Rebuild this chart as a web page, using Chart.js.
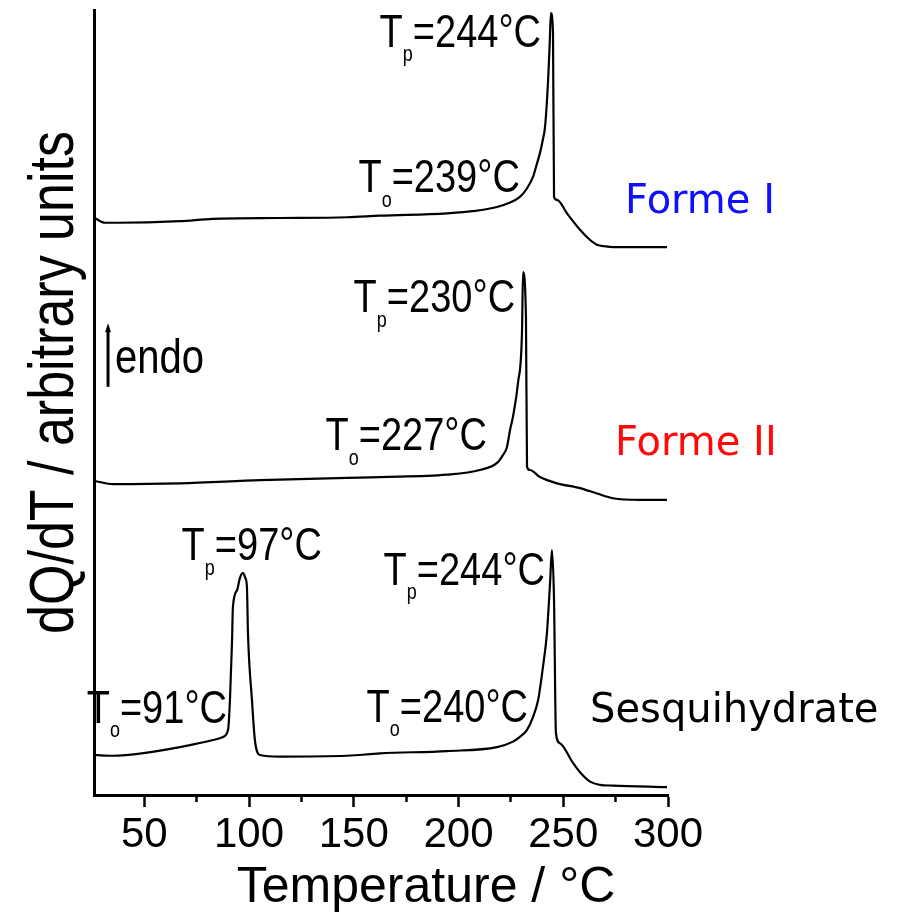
<!DOCTYPE html>
<html>
<head>
<meta charset="utf-8">
<script src="https://cdn.jsdelivr.net/npm/chart.js@4.4.1/dist/chart.umd.min.js"></script>
<style>
  html, body { margin: 0; padding: 0; background: #fff; }
  canvas { display: block; }
</style>
</head>
<body>
<canvas id="dsc" width="905" height="923"></canvas>
<script>
// DSC traces: temperature in °C, heat flow dQ/dT in arbitrary units (endo up)
const formeITemp = [26.3, 31.3, 37.0, 67.0, 82.8, 114.8, 146.8, 162.5, 194.5, 208.0, 218.4, 224.0, 229.3, 232.5, 235.5, 237.3, 238.9, 240.2, 241.3, 242.7, 243.5, 244.1, 245.1, 245.6, 247.0, 251.8, 258.0, 262.8, 266.1, 270.0, 273.7, 299.5]
const formeIFlow = [73.5, 72.9, 72.9, 73.1, 73.4, 73.5, 73.6, 73.8, 74.1, 74.4, 74.9, 75.4, 76.2, 77.2, 78.7, 80.3, 81.8, 83.4, 85.1, 90.7, 95.5, 99.6, 97.1, 76.2, 75.8, 74.1, 72.0, 70.7, 70.1, 69.9, 69.8, 69.8]

const formeIITemp = [26.3, 35.1, 67.0, 105.2, 146.8, 162.5, 194.5, 210.2, 218.4, 221.2, 223.1, 224.6, 226.0, 228.4, 230.3, 230.8, 232.2, 232.7, 234.1, 238.9, 247.0, 258.0, 266.1, 273.7, 286.6, 299.5]
const formeIIFlow = [40.0, 39.6, 39.7, 40.1, 40.4, 40.5, 40.8, 41.4, 42.3, 43.3, 44.3, 46.5, 48.2, 52.5, 58.9, 66.6, 60.9, 41.8, 41.4, 40.5, 39.7, 39.1, 38.4, 37.8, 37.6, 37.6]

const sesquiTemp = [26.3, 35.1, 51.3, 67.0, 82.8, 87.6, 90.0, 90.9, 91.9, 92.3, 94.3, 95.6, 97.1, 98.3, 99.0, 99.5, 101.4, 102.8, 105.2, 114.8, 146.8, 162.5, 194.5, 218.4, 226.0, 229.3, 232.7, 235.5, 238.0, 240.3, 242.2, 243.7, 244.6, 245.6, 246.5, 248.4, 254.6, 258.0, 262.8, 267.5, 273.7, 299.5]
const sesquiFlow = [5.1, 5.0, 5.4, 6.1, 7.0, 7.4, 8.3, 12.1, 19.7, 23.9, 26.1, 27.6, 28.3, 27.6, 26.5, 20.6, 12.1, 7.0, 5.1, 4.9, 5.0, 5.3, 5.6, 6.1, 6.8, 7.4, 8.3, 9.9, 12.1, 16.3, 20.6, 27.0, 31.2, 24.8, 7.9, 6.6, 4.1, 2.9, 1.7, 1.3, 1.2, 1.0]

const majorTicks = [50, 100, 150, 200, 250, 300]
const minorTicks = [75, 125, 175, 225, 275]

// onset / peak labels, anchored at their right end (temperature, flow)
const notes = [
  { sub: 'p', text: '=244°C', x: 239.4, y: 95.3 },
  { sub: 'o', text: '=239°C', x: 229.3, y: 76.8 },
  { sub: 'p', text: '=230°C', x: 227.0, y: 61.5 },
  { sub: 'o', text: '=227°C', x: 213.6, y: 43.9 },
  { sub: 'p', text: '=97°C', x: 134.8, y: 29.9 },
  { sub: 'o', text: '=91°C', x: 89.5, y: 9.2 },
  { sub: 'p', text: '=244°C', x: 241.3, y: 26.8 },
  { sub: 'o', text: '=240°C', x: 233.2, y: 9.3 }
]

const seriesNames = [
  { text: 'Forme I', color: '#1010ff', x: 279.5, y: 74.1 },
  { text: 'Forme II', color: '#ff0a0a', x: 274.7, y: 43.3 },
  { text: 'Sesquihydrate', color: '#000', x: 262.8, y: 9.3 }
]

const sans = '"Liberation Sans", Arial, sans-serif'

const toPoints = (temps, flows) => temps.map((t, i) => ({ x: t, y: flows[i] }))

const trace = (label, temps, flows) => ({
  label,
  data: toPoints(temps, flows),
  borderColor: '#000',
  borderWidth: 2.2,
  pointRadius: 0,
  cubicInterpolationMode: 'monotone',
  fill: false
})

const annotate = {
  id: 'annotate',
  afterDraw (chart) {
    const { ctx, chartArea, scales: { x, y } } = chart
    ctx.save()
    ctx.fillStyle = '#000'
    ctx.textBaseline = 'alphabetic'
    ctx.textAlign = 'left'

    notes.forEach((n) => {
      ctx.font = `38px ${sans}`
      const wT = ctx.measureText('T').width
      const wRest = ctx.measureText(n.text).width
      ctx.font = `18px ${sans}`
      const wSub = ctx.measureText(n.sub).width
      const left = x.getPixelForValue(n.x) - (wT + wSub + wRest)
      ctx.save()
      ctx.translate(left, y.getPixelForValue(n.y))
      ctx.scale(1, 1.2)
      ctx.font = `38px ${sans}`
      ctx.fillText('T', 0, 0)
      ctx.fillText(n.text, wT + wSub, 0)
      ctx.font = `18px ${sans}`
      ctx.fillText(n.sub, wT, 12)
      ctx.restore()
    })

    ctx.font = '40px "DejaVu Sans", Verdana, sans-serif'
    seriesNames.forEach((s) => {
      ctx.fillStyle = s.color
      ctx.fillText(s.text, x.getPixelForValue(s.x), y.getPixelForValue(s.y))
    })

    // endo arrow
    ctx.fillStyle = '#000'
    ctx.strokeStyle = '#000'
    const ax = x.getPixelForValue(32.7)
    const aTop = y.getPixelForValue(60.1)
    const aBot = y.getPixelForValue(52.0)
    ctx.lineWidth = 3
    ctx.beginPath()
    ctx.moveTo(ax, aBot)
    ctx.lineTo(ax, aTop + 6)
    ctx.stroke()
    ctx.beginPath()
    ctx.moveTo(ax, aTop)
    ctx.lineTo(ax - 3, aTop + 9)
    ctx.lineTo(ax + 3, aTop + 9)
    ctx.closePath()
    ctx.fill()
    ctx.save()
    ctx.translate(x.getPixelForValue(36.0), y.getPixelForValue(53.8))
    ctx.scale(1, 1.2)
    ctx.font = `40px ${sans}`
    ctx.fillText('endo', 0, 0)
    ctx.restore()

    // axis titles (the x title sits right of the axis centre in the original)
    ctx.save()
    ctx.font = `50px ${sans}`
    ctx.textAlign = 'center'
    ctx.fillText('Temperature / °C', (chartArea.left + chartArea.right) / 2 + 45, chartArea.bottom + 107)
    ctx.restore()

    ctx.save()
    ctx.translate(chartArea.left - 21, (chartArea.top + chartArea.bottom) / 2 - 20)
    ctx.rotate(-Math.PI / 2)
    ctx.scale(1, 1.2)
    ctx.font = `52px ${sans}`
    ctx.textAlign = 'center'
    ctx.fillText('dQ/dT / arbitrary units', 0, 0)
    ctx.restore()

    ctx.restore()
  }
}

const chart = new Chart(document.getElementById('dsc').getContext('2d'), {
  type: 'line',
  data: {
    datasets: [
      trace('Forme I', formeITemp, formeIFlow),
      trace('Forme II', formeIITemp, formeIIFlow),
      trace('Sesquihydrate', sesquiTemp, sesquiFlow)
    ]
  },
  options: {
    responsive: false,
    animation: false,
    devicePixelRatio: 1,
    layout: { padding: { top: 10, right: 237, bottom: 0, left: 0 } },
    plugins: {
      legend: { display: false },
      tooltip: { enabled: false }
    },
    scales: {
      x: {
        type: 'linear',
        position: 'bottom',
        weight: 1,
        min: 26,
        max: 300,
        afterBuildTicks: (axis) => { axis.ticks = majorTicks.map((value) => ({ value })) },
        afterFit: (axis) => { axis.height = 128 },
        grid: { drawOnChartArea: false, drawTicks: true, tickLength: 12, tickWidth: 2.5, tickColor: '#000' },
        border: { display: true, color: '#000', width: 3 },
        ticks: {
          color: '#000',
          padding: 3,
          maxRotation: 0,
          autoSkip: false,
          font: { family: sans, size: 42 }
        }
      },
      xMinor: {
        type: 'linear',
        position: 'bottom',
        weight: 0,
        min: 26,
        max: 300,
        afterBuildTicks: (axis) => { axis.ticks = minorTicks.map((value) => ({ value })) },
        afterFit: (axis) => { axis.height = 0 },
        grid: { drawOnChartArea: false, drawTicks: true, tickLength: 7, tickWidth: 2.5, tickColor: '#000' },
        border: { display: false },
        ticks: { display: false }
      },
      y: {
        min: 0,
        max: 100,
        afterFit: (axis) => { axis.width = 94 },
        grid: { display: false },
        border: { display: true, color: '#000', width: 3 },
        ticks: { display: false }
      }
    }
  },
  plugins: [annotate]
})
</script>
</body>
</html>
